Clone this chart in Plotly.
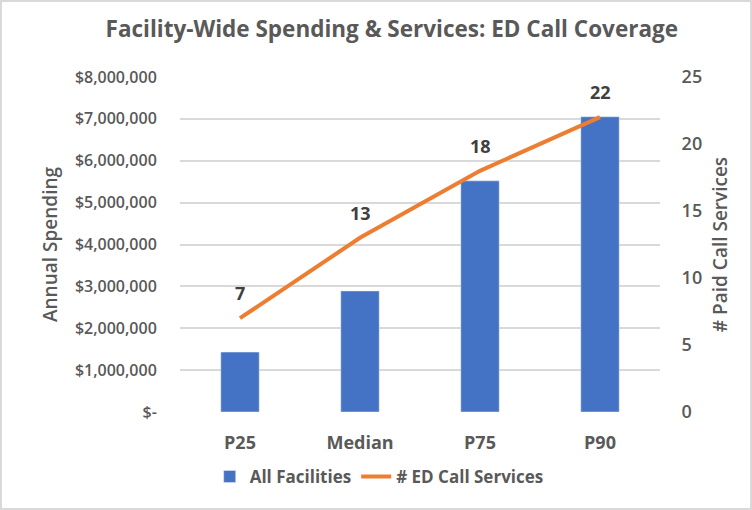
import plotly.graph_objects as go

categories = ['P25', 'Median', 'P75', 'P90']
spending = [1430000, 2890000, 5520000, 7050000]
ed_call_services = [7, 13, 18, 22]

left_ticks = [0, 1000000, 2000000, 3000000, 4000000, 5000000, 6000000, 7000000, 8000000]
left_labels = ['$-', '$1,000,000', '$2,000,000', '$3,000,000', '$4,000,000',
               '$5,000,000', '$6,000,000', '$7,000,000', '$8,000,000']
right_ticks = [0, 5, 10, 15, 20, 25]

font_family = 'Open Sans, Lato, sans-serif'
grey = '#595959'

fig = go.Figure()

fig.add_trace(go.Bar(x=categories, y=spending, name='All Facilities',
                     marker_color='#4472C4', yaxis='y'))

fig.add_trace(go.Scatter(x=categories, y=ed_call_services, name='# ED Call Services',
                         mode='lines', yaxis='y2',
                         line=dict(color='#ED7D31', width=4)))

# data labels above the line points
for cat, val in zip(categories, ed_call_services):
    fig.add_annotation(x=cat, y=val, yref='y2', text=str(val), showarrow=False,
                       yshift=25, font=dict(size=18, color='#404040', family=font_family, weight='bold'))

fig.update_layout(
    width=752, height=510,
    paper_bgcolor='white', plot_bgcolor='white',
    margin=dict(l=180, r=92, t=77, b=98),
    title=dict(text='Facility-Wide Spending & Services: ED Call Coverage',
               x=0.521, xanchor='center', y=0.943, yanchor='middle',
               font=dict(size=22.5, color=grey, family=font_family, weight='bold')),
    bargap=0.68,
    showlegend=True,
    legend=dict(orientation='h', x=0.415, xanchor='center', y=-0.194, yanchor='middle',
                font=dict(size=17, color=grey, family=font_family, weight='bold')),
    xaxis=dict(tickfont=dict(size=18, color=grey, family=font_family, weight='bold'),
               showline=False, ticks='outside', ticklen=14, tickcolor='white', showgrid=False),
    yaxis=dict(range=[0, 8000000], tickvals=left_ticks, ticktext=left_labels,
               tickfont=dict(size=16, color=grey, family=font_family, weight=600),
               gridcolor='#d9d9d9', gridwidth=1.5, zeroline=False, ticklen=19, ticks='outside',
               tickcolor='white', automargin=False,
               title=dict(text='Annual Spending', standoff=12,
                          font=dict(size=19, color=grey, family=font_family, weight=600))),
    yaxis2=dict(range=[0, 25], tickvals=right_ticks, overlaying='y', side='right',
                tickfont=dict(size=18, color=grey, family=font_family, weight=600),
                showgrid=False, zeroline=False, ticks='outside', ticklen=17, tickcolor='white',
                automargin=False,
                title=dict(text='# Paid Call Services', standoff=12,
                           font=dict(size=19, color=grey, family=font_family, weight=600))),
)

# light border around the whole chart
fig.add_shape(type='rect', xref='paper', yref='paper',
              x0=(1 - 180) / 480, x1=(751 - 180) / 480,
              y0=-(509 - 412) / 335, y1=1 + 76 / 335,
              line=dict(color='#d9d9d9', width=2))

fig.write_html('out.html', config={'displayModeBar': False},
               post_script="document.body.style.margin='0';")
